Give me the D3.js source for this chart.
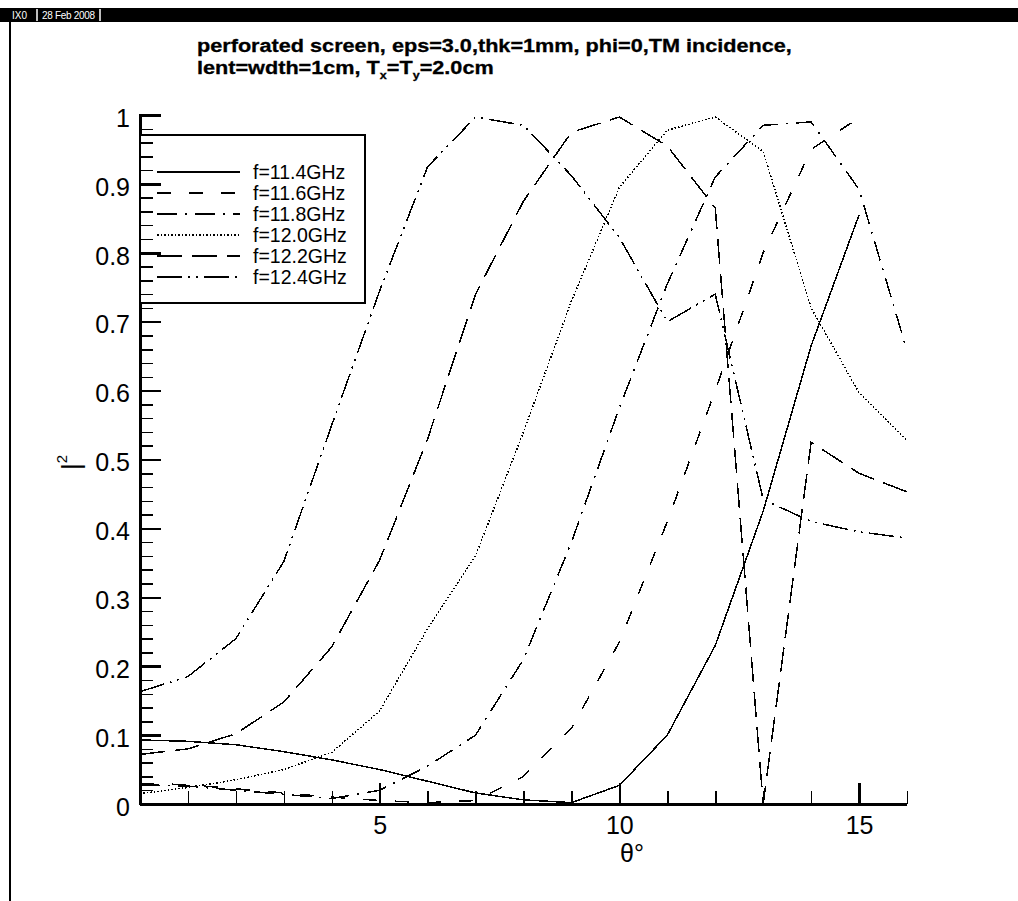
<!DOCTYPE html>
<html>
<head>
<meta charset="utf-8">
<script src="https://cdn.jsdelivr.net/npm/d3@7"></script>
<style>
  body { margin: 0; background: #fff; }
  svg { display: block; }
</style>
</head>
<body>
<svg id="chart" width="1018" height="901"></svg>
<script>
// Incidence angle (degrees) at which the screen was computed
const angles = [0, 1, 2, 3, 4, 5, 6, 7, 8, 9, 10, 11, 12, 13, 14, 15, 16];

// |T|^2 for each frequency
const f114 = [0.093, 0.091, 0.086, 0.076, 0.064, 0.050, 0.033, 0.016, 0.006, 0.002, 0.027, 0.100, 0.230, 0.425, 0.665, 0.855];
const f116 = [0.030, 0.028, 0.022, 0.016, 0.010, 0.005, 0.002, 0.005, 0.040, 0.110, 0.235, 0.410, 0.600, 0.800, 0.950, 0.996];
const f118 = [0.028, 0.026, 0.020, 0.014, 0.008, 0.020, 0.055, 0.100, 0.210, 0.380, 0.575, 0.755, 0.910, 0.985, 0.990, 0.892, 0.658];
const f120 = [0.015, 0.024, 0.035, 0.050, 0.075, 0.135, 0.255, 0.360, 0.540, 0.730, 0.895, 0.978, 0.997, 0.947, 0.720, 0.597, 0.528];
const f122 = [0.072, 0.080, 0.102, 0.148, 0.228, 0.354, 0.530, 0.740, 0.875, 0.975, 0.997, 0.955, 0.865, 0.000, 0.525, 0.480, 0.453];
const f124 = [0.163, 0.185, 0.240, 0.352, 0.550, 0.745, 0.925, 0.997, 0.985, 0.912, 0.822, 0.700, 0.740, 0.442, 0.410, 0.395, 0.386];

const seriesNames = ["f=11.4GHz", "f=11.6GHz", "f=11.8GHz", "f=12.0GHz", "f=12.2GHz", "f=12.4GHz"];
const seriesValues = [f114, f116, f118, f120, f122, f124];

// Axis tick labels
const yTicks = [0, 0.1, 0.2, 0.3, 0.4, 0.5, 0.6, 0.7, 0.8, 0.9, 1];
const xTicks = [5, 10, 15];

const titleLine1 = "perforated screen, eps=3.0,thk=1mm, phi=0,TM incidence,";
const headerName = "IX0";
const headerDate = "28 Feb 2008";

// Line patterns, one per series
const dashStyles = ["none", "14,18", "20,8,2,8", "1.5,2", "25,10", "25,6,2,6,2,6"];

const W = 1018, H = 901;
const FONT = "'Liberation Sans', Arial, Helvetica, sans-serif";
const svg = d3.select("#chart");

const x = d3.scaleLinear().domain([0, 16]).range([140, 907]);
const y = d3.scaleLinear().domain([0, 1]).range([804, 115]);

// ---- frame header ----
svg.append("rect").attr("x", 0).attr("y", 8).attr("width", W).attr("height", 14).attr("fill", "#000");
svg.append("text").attr("x", 12).attr("y", 19).attr("fill", "#fff")
  .attr("font-family", FONT).attr("font-size", 10).text(headerName);
svg.append("text").attr("x", 42).attr("y", 19).attr("fill", "#fff")
  .attr("font-family", FONT).attr("font-size", 10).attr("letter-spacing", -0.3).text(headerDate);
[37, 100].forEach(px => {
  svg.append("line").attr("x1", px).attr("x2", px).attr("y1", 9).attr("y2", 21)
    .attr("stroke", "#fff").attr("stroke-width", 1.5);
});
// frame border on the left
svg.append("line").attr("x1", 10).attr("x2", 10).attr("y1", 22).attr("y2", H)
  .attr("stroke", "#000").attr("stroke-width", 1.2).attr("shape-rendering", "crispEdges");

// ---- title (wide bold face: stretched horizontally) ----
const tg = svg.append("g").attr("transform", "translate(197,0) scale(1.14,1)")
  .attr("font-family", FONT).attr("font-weight", "bold").attr("font-size", 19)
  .attr("stroke", "#000").attr("stroke-width", 0.3);
tg.append("text").attr("x", 0).attr("y", 52).text(titleLine1);
const t2 = tg.append("text").attr("x", 0).attr("y", 74);
t2.append("tspan").text("lent=wdth=1cm, T");
t2.append("tspan").attr("font-size", 11).attr("dy", 5).text("x");
t2.append("tspan").attr("dy", -5).text("=T");
t2.append("tspan").attr("font-size", 11).attr("dy", 5).text("y");
t2.append("tspan").attr("dy", -5).text("=2.0cm");

// ---- axes ----
const fmtY = d => String(+d.toFixed(1));
const yMinor = d3.range(0, 1.0001, 0.02).filter(v => Math.abs(v * 10 - Math.round(v * 10)) > 1e-6);
const xMinor = d3.range(1, 17).filter(v => v % 5 !== 0);

const gy = svg.append("g").attr("transform", `translate(${x(0)},0)`)
  .call(d3.axisLeft(y).tickValues(yTicks).tickFormat(fmtY).tickSize(-21).tickPadding(10));
const gyMinor = svg.append("g").attr("transform", `translate(${x(0)},0)`)
  .call(d3.axisLeft(y).tickValues(yMinor).tickFormat("").tickSize(-13));
const gx = svg.append("g").attr("transform", `translate(0,${y(0)})`)
  .call(d3.axisBottom(x).tickValues(xTicks).tickFormat(d3.format("d")).tickSize(-21).tickPadding(12));
const gxMinor = svg.append("g").attr("transform", `translate(0,${y(0)})`)
  .call(d3.axisBottom(x).tickValues(xMinor).tickFormat("").tickSize(-13));

[gy, gx].forEach(g => {
  g.select(".domain").remove();
  g.selectAll(".tick line").attr("stroke", "#000").attr("stroke-width", 2.5).attr("shape-rendering", "crispEdges");
  g.selectAll(".tick text").attr("font-family", FONT).attr("font-size", 25).attr("fill", "#000");
});
[gyMinor, gxMinor].forEach(g => {
  g.select(".domain").remove();
  g.selectAll(".tick line").attr("stroke", "#000").attr("stroke-width", 1.5).attr("shape-rendering", "crispEdges");
});
gy.selectAll(".tick text").attr("dy", "0.45em");

// axis lines
svg.append("line").attr("x1", x(0)).attr("x2", x(0)).attr("y1", y(1) - 1).attr("y2", y(0) + 1)
  .attr("stroke", "#000").attr("stroke-width", 3).attr("shape-rendering", "crispEdges");
svg.append("line").attr("x1", x(0)).attr("x2", x(16)).attr("y1", y(0)).attr("y2", y(0))
  .attr("stroke", "#000").attr("stroke-width", 3).attr("shape-rendering", "crispEdges");

// axis titles
const yl = svg.append("text").attr("transform", "translate(80,470) rotate(-90)")
  .attr("font-family", FONT).attr("font-size", 26);
yl.append("tspan").text("|");
yl.append("tspan").attr("font-size", 15).attr("dy", -13).text("2");

svg.append("text").attr("x", 632).attr("y", 862).attr("text-anchor", "middle")
  .attr("font-family", FONT).attr("font-size", 25).text("θ°");

// ---- curves ----
svg.append("clipPath").attr("id", "plotClip").append("rect")
  .attr("x", x(0)).attr("y", y(1)).attr("width", x(16) - x(0)).attr("height", y(0) - y(1));

const line = d3.line().x((d, i) => x(angles[i])).y(d => y(d));
const curves = svg.append("g").attr("clip-path", "url(#plotClip)");
seriesValues.forEach((vals, k) => {
  curves.append("path").attr("d", line(vals))
    .attr("fill", "none").attr("stroke", "#000").attr("stroke-width", 1.5)
    .attr("stroke-dasharray", dashStyles[k]).attr("stroke-linejoin", "miter")
    .attr("shape-rendering", "crispEdges");
});

// ---- legend ----
const lg = svg.append("g");
lg.append("rect").attr("x", 140).attr("y", 135).attr("width", 225).attr("height", 168)
  .attr("fill", "#fff").attr("stroke", "#000").attr("stroke-width", 1.5).attr("shape-rendering", "crispEdges");
seriesNames.forEach((name, k) => {
  const cy = 172 + k * 21;
  lg.append("line").attr("x1", 157).attr("x2", 240).attr("y1", cy).attr("y2", cy)
    .attr("stroke", "#000").attr("stroke-width", 1.5).attr("stroke-dasharray", dashStyles[k])
    .attr("shape-rendering", "crispEdges");
  lg.append("text").attr("x", 253).attr("y", cy + 7)
    .attr("font-family", FONT).attr("font-size", 19.5).text(name);
});
// y ticks stay visible over the legend's left strip
gy.raise(); gyMinor.raise();
</script>
</body>
</html>
